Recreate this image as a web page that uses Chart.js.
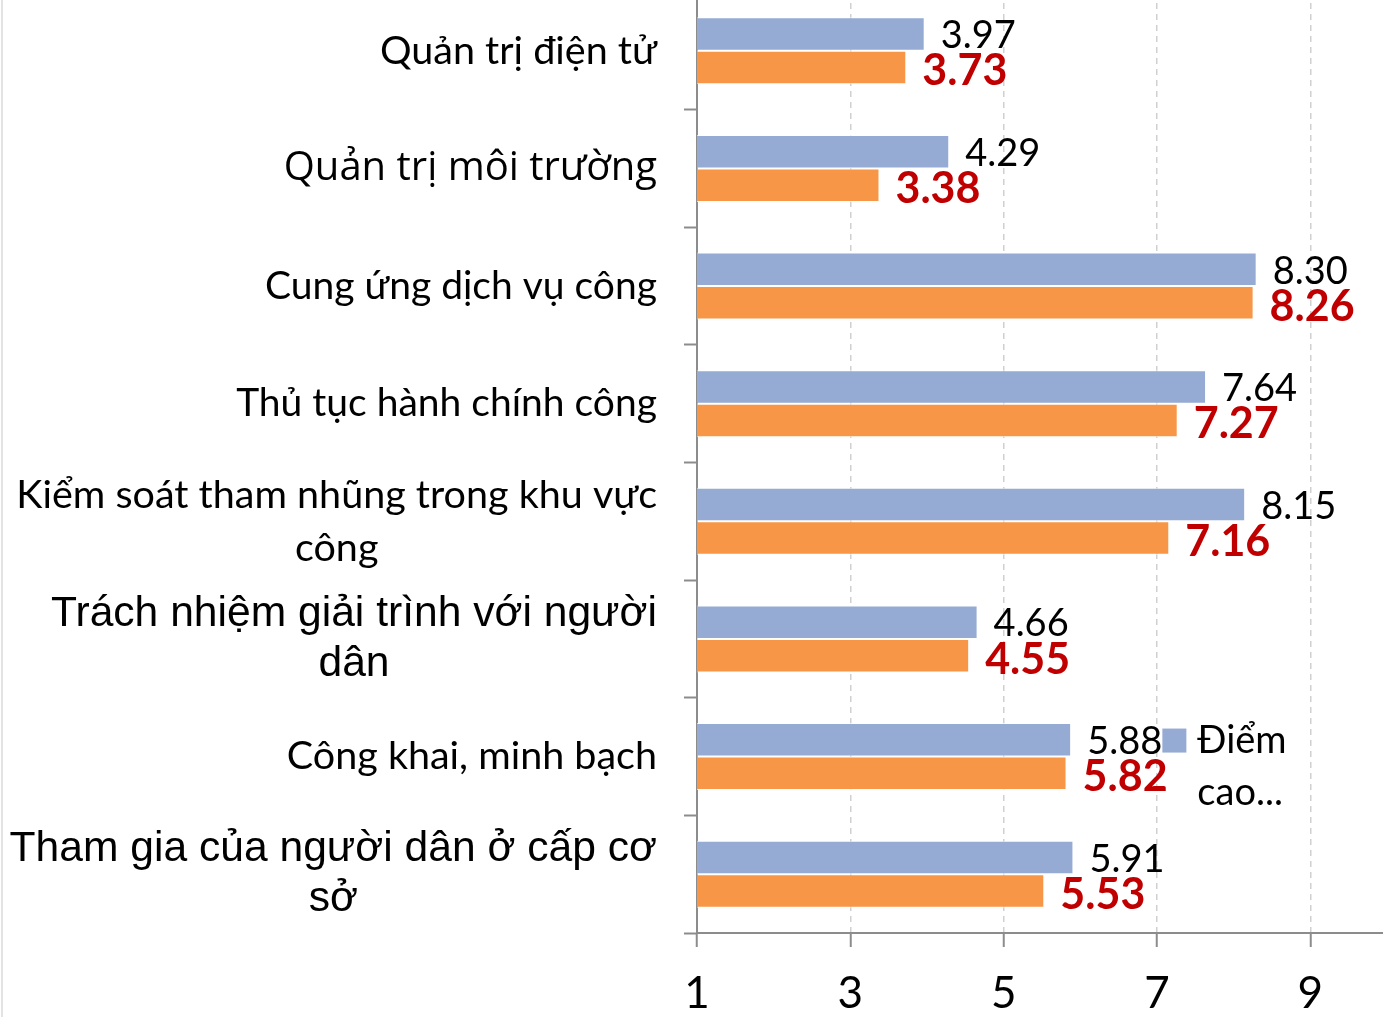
<!DOCTYPE html>
<html>
<head>
<meta charset="utf-8">
<script src="https://cdn.jsdelivr.net/npm/chart.js@4.4.0/dist/chart.umd.min.js"></script>
<style>
  html, body { margin: 0; padding: 0; background: #fff; overflow: hidden; }
  #wrap { position: relative; width: 1383px; height: 1017px; overflow: hidden; }
  #wrap::before { content: ''; position: absolute; left: 1px; top: 0; bottom: 0; width: 2px; background: #e3e3e3; }
  #box { position: absolute; left: 0; top: -8px; width: 1387px; height: 1025px; }
</style>
</head>
<body>
<div id="wrap"><div id="box"><canvas id="myChart"></canvas></div></div>
<script>
// du lieu
const categories = [
  ['Quản trị điện tử'],
  ['Quản trị môi trường'],
  ['Cung ứng dịch vụ công'],
  ['Thủ tục hành chính công'],
  ['Kiểm soát tham nhũng trong khu vực', 'công'],
  ['Trách nhiệm giải trình với người', 'dân'],
  ['Công khai, minh bạch'],
  ['Tham gia của người dân ở cấp cơ', 'sở']
];
const diemCao = [3.97, 4.29, 8.30, 7.64, 8.15, 4.66, 5.88, 5.91];
const diemTinh = [3.73, 3.38, 8.26, 7.27, 7.16, 4.55, 5.82, 5.53];
const xTickValues = [1, 3, 5, 7, 9];
const legendText = ['Điểm', 'cao...'];

// fontovi za nazive (razliciti kao na slici)
const calibriLike = 'Lato, "Open Sans", sans-serif';
const arialLike = '"Liberation Sans", Arial, sans-serif';
const labelFonts = [
  '39.5px ' + calibriLike,
  '40px "Open Sans", sans-serif',
  '39px ' + calibriLike,
  '39px ' + calibriLike,
  '39.5px ' + calibriLike,
  '42.6px ' + arialLike,
  '39.5px ' + calibriLike,
  '42.6px ' + arialLike
];
const labelLineH = [0, 0, 0, 0, 53, 50, 0, 50];

const blue = '#95abd3';
const orange = '#f79646';

const yLabels = {
  id: 'yLabels',
  afterDraw(chart) {
    const c = chart.ctx;
    const ys = chart.scales.y;
    const right = chart.chartArea.left - 40;
    c.save();
    c.fillStyle = '#000';
    c.textBaseline = 'middle';
    categories.forEach((lines, i) => {
      const yc = ys.getPixelForTick(i);
      c.font = labelFonts[i];
      const w = Math.max(...lines.map(l => c.measureText(l).width));
      const mid = right - w / 2;
      c.textAlign = 'center';
      const lh = labelLineH[i];
      lines.forEach((l, k) => {
        const y = yc + (k - (lines.length - 1) / 2) * lh;
        c.fillText(l, mid, y);
      });
    });
    c.restore();
  }
};

const valueLabels = {
  id: 'valueLabels',
  afterDatasetsDraw(chart) {
    const c = chart.ctx;
    c.save();
    c.textAlign = 'left';
    c.textBaseline = 'middle';
    chart.data.datasets.forEach((ds, di) => {
      const meta = chart.getDatasetMeta(di);
      meta.data.forEach((bar, i) => {
        let dy = 2;
        if (di === 0) {
          c.font = '38px ' + calibriLike;
          c.fillStyle = '#000';
        } else {
          c.font = 'bold 43px ' + calibriLike;
          c.fillStyle = '#c00000';
          dy = 4;
        }
        c.fillText(ds.data[i].toFixed(2), bar.x + 16, bar.y + dy);
      });
    });
    c.restore();
  }
};

const sideLegend = {
  id: 'sideLegend',
  afterDraw(chart) {
    const c = chart.ctx;
    const xs = chart.scales.x;
    const ys = chart.scales.y;
    const x0 = xs.getPixelForValue(7.07);
    const y0 = ys.getPixelForTick(6) - 28;
    c.save();
    c.fillStyle = blue;
    c.fillRect(x0, y0, 24, 24);
    c.fillStyle = '#000';
    c.font = '38px ' + calibriLike;
    c.textBaseline = 'middle';
    c.textAlign = 'left';
    legendText.forEach((t, k) => c.fillText(t, x0 + 35, y0 + 12 + k * 52));
    c.restore();
  }
};

const ctx = document.getElementById('myChart').getContext('2d');
const chart = new Chart(ctx, {
  type: 'bar',
  data: {
    labels: categories,
    datasets: [{
      label: 'Điểm cao...',
      data: diemCao,
      backgroundColor: blue,
      borderColor: 'rgba(255,255,255,0.7)',
      borderWidth: 1,
      barPercentage: 1,
      categoryPercentage: 0.57
    }, {
      label: 'Điểm',
      data: diemTinh,
      backgroundColor: orange,
      borderColor: 'rgba(255,255,255,0.7)',
      borderWidth: 1,
      barPercentage: 1,
      categoryPercentage: 0.57
    }]
  },
  options: {
    indexAxis: 'y',
    responsive: true,
    maintainAspectRatio: false,
    animation: false,
    layout: { padding: 0 },
    plugins: {
      legend: { display: false },
      tooltip: { enabled: false }
    },
    scales: {
      x: {
        min: 1,
        max: 10,
        afterBuildTicks: s => { s.ticks = xTickValues.map(v => ({ value: v })); },
        afterFit: s => { s.height = 84; },
        border: { display: true, color: '#8c8c8c', width: 2, dash: [6, 5] },
        grid: {
          color: '#d0d0d0',
          lineWidth: 1.5,
          tickColor: '#8c8c8c',
          tickBorderDash: [],
          tickWidth: 2,
          tickLength: 14
        },
        ticks: {
          color: '#000',
          font: { family: calibriLike, size: 44 },
          padding: 20
        }
      },
      y: {
        afterFit: s => { s.width = 697; },
        border: { display: true, color: '#8c8c8c', width: 2 },
        grid: {
          offset: true,
          drawOnChartArea: false,
          color: '#8c8c8c',
          tickLength: 13,
          tickWidth: 2
        },
        ticks: { display: false }
      }
    }
  },
  plugins: [yLabels, valueLabels, sideLegend]
});
</script>
</body>
</html>
